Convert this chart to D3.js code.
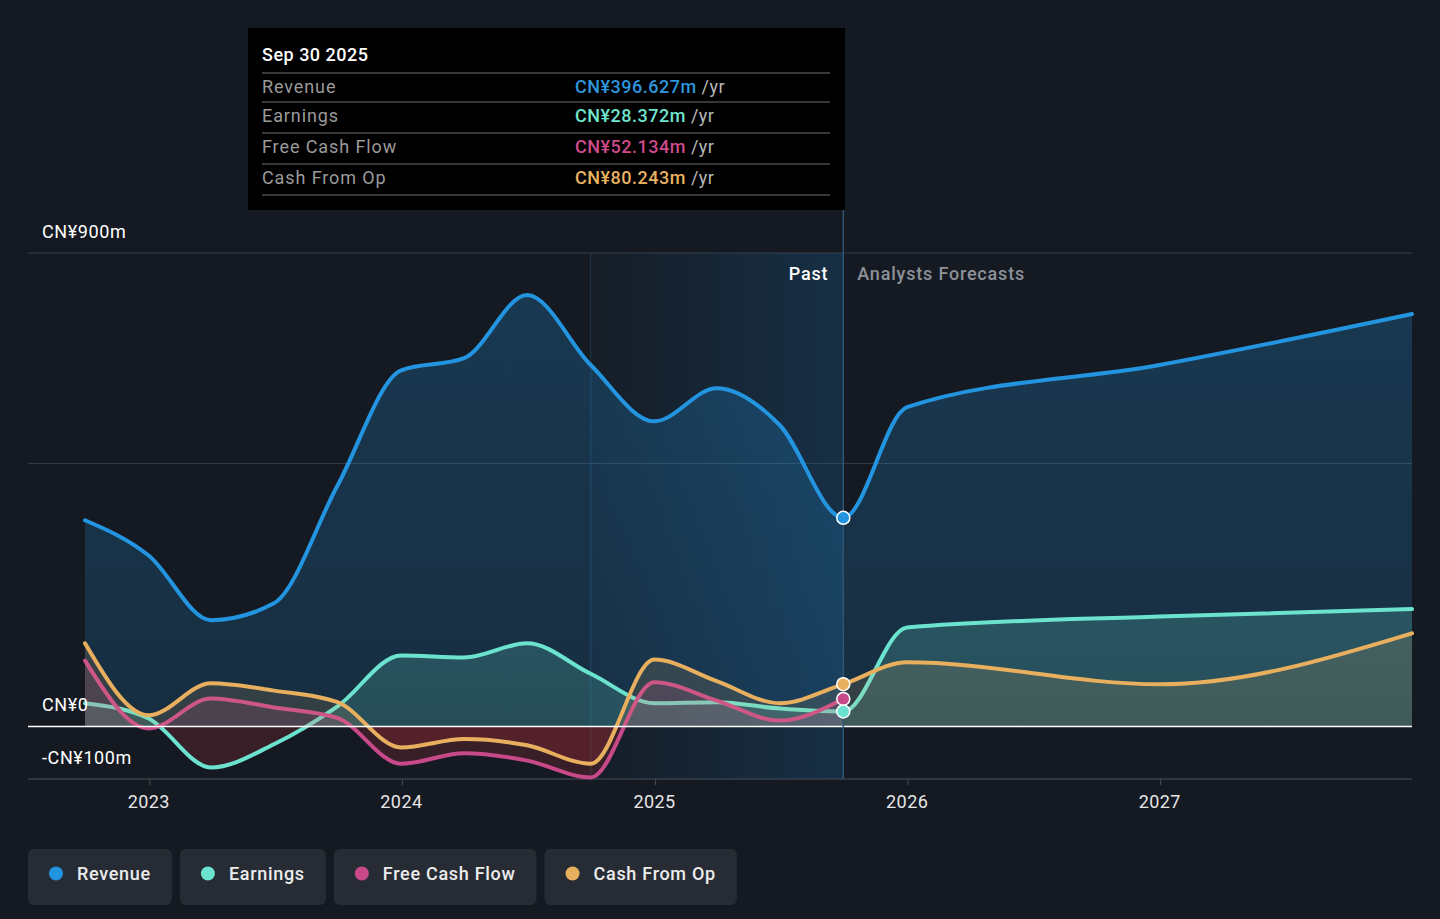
<!DOCTYPE html>
<html>
<head>
<meta charset="utf-8">
<script src="https://cdn.jsdelivr.net/npm/d3@7"></script>
<style>
  html, body { margin: 0; padding: 0; background: #151a22; }
  svg { display: block; font-family: Roboto, "Noto Sans", sans-serif; }
</style>
</head>
<body>
<svg id="chart" width="1440" height="919"></svg>
<script>
// quarterly trailing figures, CN¥ millions
var pastDates = ["2022-09-30", "2022-12-31", "2023-03-31", "2023-06-30", "2023-09-30", "2023-12-31",
  "2024-03-31", "2024-06-30", "2024-09-30", "2024-12-31", "2025-03-31", "2025-06-30", "2025-09-30"];
var forecastDates = ["2025-12-31", "2026-12-31", "2027-12-31"];

var revenuePast = [392, 325, 202, 234, 458, 677, 700, 820, 687, 580, 643, 573, 396.627];
var revenueForecast = [607, 687, 784];
var earningsPast = [44, 15, -78, -34, 38, 135, 131, 158, 100, 44, 46, 34, 28.372];
var earningsForecast = [188, 209, 223];
var fcfPast = [125, -4, 53, 36, 16, -71, -51, -65, -97, 84, 49, 11, 52.134];
var cfoPast = [158, 21, 82, 68, 46, -40, -24, -36, -71, 127, 86, 44, 80.243];
var cfoForecast = [122, 80, 177];

var yTicks = [900, 0, -100];
var yTickLabels = ["CN¥900m", "CN¥0", "-CN¥100m"];
var gridValues = [900, 500];
var xTickYears = [2023, 2024, 2025, 2026, 2027];

var tooltipTitle = "Sep 30 2025";
var tooltipRows = [
  { label: "Revenue", value: "CN¥396.627m", color: "#2d96de" },
  { label: "Earnings", value: "CN¥28.372m", color: "#6fe4cf" },
  { label: "Free Cash Flow", value: "CN¥52.134m", color: "#cf4b8c" },
  { label: "Cash From Op", value: "CN¥80.243m", color: "#e9b262" }
];

var parse = d3.timeParse("%Y-%m-%d");

function makeSeries(past, forecast) {
  var pts = past.map(function(v, i) { return { date: parse(pastDates[i]), value: v }; });
  (forecast || []).forEach(function(v, i) { pts.push({ date: parse(forecastDates[i]), value: v }); });
  return pts;
}

var series = [
  { name: "Revenue", color: "#2394df", data: makeSeries(revenuePast, revenueForecast), fillOp: 0.2 },
  { name: "Earnings", color: "#6be3cf", data: makeSeries(earningsPast, earningsForecast), fillOp: 0.22 },
  { name: "Free Cash Flow", color: "#c8498a", data: makeSeries(fcfPast), fillOp: 0.2 },
  { name: "Cash From Op", color: "#e8af5e", data: makeSeries(cfoPast, cfoForecast), fillOp: 0.16 }
];

var svg = d3.select("#chart");
var left = 28, right = 1412;

var x = d3.scaleTime()
  .domain([parse("2022-09-30"), parse("2027-12-31")])
  .range([85, 1412]);
var y = d3.scaleLinear().domain([-100, 900]).range([779, 253]);

var defs = svg.append("defs");

// past band gradient
var bandGrad = defs.append("linearGradient").attr("id", "bandGrad")
  .attr("x1", 0).attr("x2", 1).attr("y1", 0).attr("y2", 0);
bandGrad.append("stop").attr("offset", 0).attr("stop-color", "#1b5a8c").attr("stop-opacity", 0.04);
bandGrad.append("stop").attr("offset", 1).attr("stop-color", "#1b5a8c").attr("stop-opacity", 0.33);

// clip for positive / negative
defs.append("clipPath").attr("id", "clipPos").append("rect")
  .attr("x", left).attr("y", 0).attr("width", right - left).attr("height", y(0));
defs.append("clipPath").attr("id", "clipNeg").append("rect")
  .attr("x", left).attr("y", y(0)).attr("width", right - left).attr("height", 919 - y(0));

series.forEach(function(s, i) {
  var g = defs.append("linearGradient").attr("id", "grad" + i)
    .attr("gradientUnits", "userSpaceOnUse")
    .attr("x1", 0).attr("x2", 0).attr("y1", y(900)).attr("y2", y(0));
  g.append("stop").attr("offset", 0).attr("stop-color", s.color).attr("stop-opacity", s.fillOp * 1.3);
  g.append("stop").attr("offset", 1).attr("stop-color", s.color).attr("stop-opacity", s.fillOp * 0.8);
});

// gridlines
svg.append("g").selectAll("line").data(gridValues).enter().append("line")
  .attr("x1", left).attr("x2", right)
  .attr("y1", function(d) { return y(d); }).attr("y2", function(d) { return y(d); })
  .attr("stroke", "#3a3f47").attr("stroke-width", 1);
svg.append("line").attr("x1", left).attr("x2", right).attr("y1", y(-100)).attr("y2", y(-100))
  .attr("stroke", "#3a3f47").attr("stroke-width", 1.5);

// past band
var bandStart = parse("2024-09-30"), bandEnd = parse("2025-09-30");
svg.append("rect")
  .attr("x", x(bandStart)).attr("y", y(900))
  .attr("width", x(bandEnd) - x(bandStart)).attr("height", y(-100) - y(900))
  .attr("fill", "url(#bandGrad)");
svg.append("line")
  .attr("x1", x(bandStart)).attr("x2", x(bandStart)).attr("y1", y(900)).attr("y2", y(-100))
  .attr("stroke", "#2a4a66").attr("stroke-width", 1).attr("opacity", 0.6);

var curve = d3.curveMonotoneX;
var line = d3.line().x(function(d) { return x(d.date); }).y(function(d) { return y(d.value); }).curve(curve);
var area = d3.area().x(function(d) { return x(d.date); }).y0(y(0)).y1(function(d) { return y(d.value); }).curve(curve);

series.forEach(function(s, i) {
  svg.append("path").datum(s.data).attr("d", area)
    .attr("fill", "url(#grad" + i + ")").attr("clip-path", "url(#clipPos)");
  svg.append("path").datum(s.data).attr("d", area)
    .attr("fill", "#d8333d").attr("fill-opacity", 0.18).attr("clip-path", "url(#clipNeg)");
  svg.append("path").datum(s.data).attr("d", line)
    .attr("fill", "none").attr("stroke", s.color).attr("stroke-width", 4)
    .attr("stroke-linejoin", "round").attr("stroke-linecap", "round");
});

// zero line
svg.append("line").attr("x1", left).attr("x2", right).attr("y1", y(0)).attr("y2", y(0))
  .attr("stroke", "#ffffff").attr("stroke-width", 1.5);

// bottom axis
var xAxis = d3.axisBottom(x)
  .tickValues(xTickYears.map(function(yr) { return new Date(yr, 0, 1); }))
  .tickFormat(d3.timeFormat("%Y"))
  .tickSize(6).tickPadding(10);
var axisG = svg.append("g").attr("transform", "translate(0," + y(-100) + ")").call(xAxis);
axisG.select(".domain").remove();
axisG.selectAll(".tick line").attr("stroke", "#4a4f57");
axisG.selectAll(".tick text").attr("fill", "#e6e6e6").attr("font-size", 18)
  .attr("font-family", "Roboto").attr("letter-spacing", 0.4).attr("dx", -1);

// y labels
svg.append("g").selectAll("text").data(yTicks)
  .enter().append("text")
  .attr("x", 42)
  .attr("y", function(d) { return y(d) - 15; })
  .attr("fill", "#ffffff").attr("font-size", 18).attr("letter-spacing", 0.6)
  .text(function(d, i) { return yTickLabels[i]; });

// divider at latest point
var now = parse("2025-09-30");
svg.append("line").attr("x1", x(now)).attr("x2", x(now)).attr("y1", 210).attr("y2", y(-100))
  .attr("stroke", "#2f5574").attr("stroke-width", 1.5);

svg.append("text").attr("x", x(now) - 15).attr("y", 280).attr("text-anchor", "end")
  .attr("fill", "#ffffff").attr("font-size", 18).attr("font-weight", 500).attr("letter-spacing", 0.8).text("Past");
svg.append("text").attr("x", x(now) + 14).attr("y", 280)
  .attr("fill", "#8d9198").attr("font-size", 18).attr("font-weight", 500).attr("letter-spacing", 0.8)
  .text("Analysts Forecasts");

// end dots
[0, 3, 2, 1].forEach(function(i) {
  var s = series[i];
  var pt = s.data[pastDates.length - 1];
  svg.append("circle").attr("cx", x(pt.date)).attr("cy", y(pt.value)).attr("r", 6.5)
    .attr("fill", s.color).attr("stroke", "#ffffff").attr("stroke-width", 1.5);
});

// tooltip
var tip = svg.append("g");
tip.append("rect").attr("x", 248).attr("y", 28).attr("width", 597).attr("height", 182).attr("fill", "#000000");
tip.append("text").attr("x", 262).attr("y", 61).attr("fill", "#ffffff").attr("font-size", 18)
  .attr("font-weight", 500).attr("letter-spacing", 0.5).text(tooltipTitle);
var sepY = [73, 102, 133, 164, 195];
tip.selectAll("line").data(sepY).enter().append("line")
  .attr("x1", 262).attr("x2", 830)
  .attr("y1", function(d) { return d; }).attr("y2", function(d) { return d; })
  .attr("stroke", "#4a4a4a").attr("stroke-width", 1.5);
tooltipRows.forEach(function(r, i) {
  var by = sepY[i] + 20;
  tip.append("text").attr("x", 262).attr("y", by).attr("fill", "#9a9a9a").attr("font-size", 18)
    .attr("letter-spacing", 0.9).text(r.label);
  var t = tip.append("text").attr("x", 575).attr("y", by).attr("font-size", 18).attr("letter-spacing", 0.5);
  t.append("tspan").attr("fill", r.color).attr("font-weight", 500).text(r.value);
  t.append("tspan").attr("fill", "#b8b8b8").text(" /yr");
});

// legend
var lx = 28;
series.forEach(function(s) {
  var g = svg.append("g");
  var rect = g.append("rect").attr("x", lx).attr("y", 849).attr("height", 56).attr("rx", 6).attr("fill", "#272c34");
  g.append("circle").attr("cx", lx + 28).attr("cy", 873.5).attr("r", 7).attr("fill", s.color);
  var t = g.append("text").attr("x", lx + 49).attr("y", 880).attr("fill", "#ececec").attr("font-size", 18)
    .attr("font-weight", 500).attr("letter-spacing", 0.7).text(s.name);
  var w = 49 + t.node().getComputedTextLength() + 21;
  rect.attr("width", w);
  lx += w + 8;
});
</script>
</body>
</html>
